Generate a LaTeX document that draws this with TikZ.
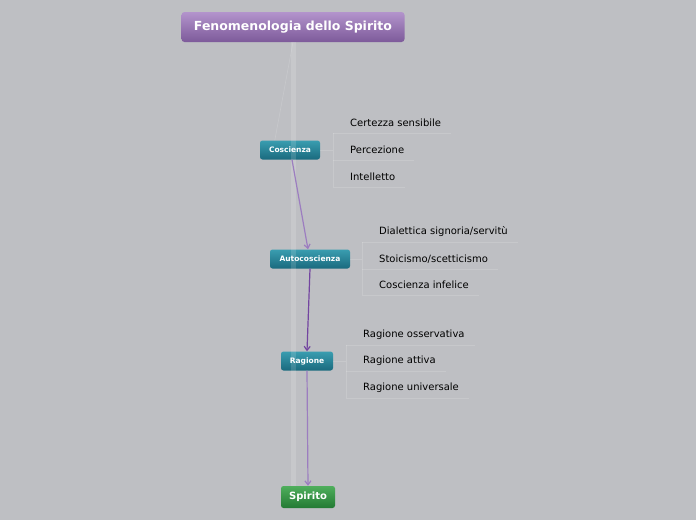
\documentclass[tikz,border=0pt]{standalone}
\usepackage{fontspec}
\setmainfont{DejaVu Sans}
\usetikzlibrary{arrows.meta}
\definecolor{bggray}{HTML}{BEBFC3}
\definecolor{titletop}{HTML}{B394CC}
\definecolor{titlebot}{HTML}{7D5A9A}
\definecolor{tealtop}{HTML}{3A9DB0}
\definecolor{tealbot}{HTML}{1A6A7E}
\definecolor{greentop}{HTML}{4FAE5C}
\definecolor{greenbot}{HTML}{237A33}
\definecolor{arrowpurple}{HTML}{9C7DC0}
\definecolor{arrowdark}{HTML}{7345A0}
\begin{document}
\begin{tikzpicture}[x=1pt, y=-1pt,
  titlebox/.style={rounded corners=3pt, top color=titletop, bottom color=titlebot, text=white,
    font=\fontsize{12.5}{14}\selectfont\bfseries, minimum width=223pt, minimum height=30pt, inner sep=0pt},
  stagebox/.style={rounded corners=2.5pt, top color=tealtop, bottom color=tealbot, text=white,
    font=\fontsize{7.5}{9}\selectfont\bfseries, minimum height=19pt, inner sep=0pt},
  endbox/.style={rounded corners=2.5pt, top color=greentop, bottom color=greenbot, text=white,
    font=\fontsize{10}{12}\selectfont\bfseries, minimum height=22pt, inner sep=0pt},
  item/.style={anchor=west, inner sep=0pt, font=\fontsize{10}{12}\selectfont},
  faint/.style={white, opacity=0.15, line width=0.6pt},
  flow/.style={arrowpurple, line width=1.2pt, -{Straight Barb[length=4pt,width=6pt]}}]
\useasboundingbox[fill=bggray] (0,0) rectangle (696,520);

% main nodes
\node[titlebox] (title) at (293,27) {Fenomenologia dello Spirito};
\node[stagebox, minimum width=60pt] (cosc) at (290,150) {Coscienza};
\node[stagebox, minimum width=80pt] (auto) at (310,259) {Autocoscienza};
\node[stagebox, minimum width=52pt] (rag) at (307,361) {Ragione};
\node[endbox, minimum width=54pt] (spir) at (308,497) {Spirito};

% faint links from the title
\coordinate (t0) at (293,42);
\draw[white, opacity=0.14, line width=5pt] (t0) -- (spir.north -| t0);
\draw[faint] (t0) -- ([xshift=15pt]cosc.north west);

% children
\node[item] (c1) at (350,123) {Certezza sensibile};
\node[item] (c2) at (350,150) {Percezione};
\node[item] (c3) at (350,177) {Intelletto};
\node[item] (a1) at (379,232) {Dialettica signoria/servitù};
\node[item] (a2) at (379,259) {Stoicismo/scetticismo};
\node[item] (a3) at (379,285) {Coscienza infelice};
\node[item] (r1) at (363,335) {Ragione osservativa};
\node[item] (r2) at (363,361) {Ragione attiva};
\node[item] (r3) at (363,388) {Ragione universale};

% faint brackets round the children
\foreach \p/\a/\b/\c in {cosc/c1/c2/c3, auto/a1/a2/a3, rag/r1/r2/r3}{
  \coordinate (\p x) at ([xshift=-17pt]\a.west);
  \draw[faint] (\p.east) -- (\p.east -| \p x);
  \draw[faint] ([yshift=-10pt]\p x |- \a.west) -- ([yshift=-10pt]\p x |- \c.west);
  \foreach \q in {\a,\b,\c}
    \draw[faint] ([yshift=-10pt]\p x |- \q.west) -- ([xshift=10pt,yshift=-10pt]\q.east);
}

% flow arrows
\draw[flow] ([xshift=2pt]cosc.south) -- ([xshift=-2pt]auto.north);
\draw[flow, arrowdark] (auto.south) -- (rag.north);
\draw[flow] (rag.south) -- (spir.north);
\end{tikzpicture}
\end{document}
